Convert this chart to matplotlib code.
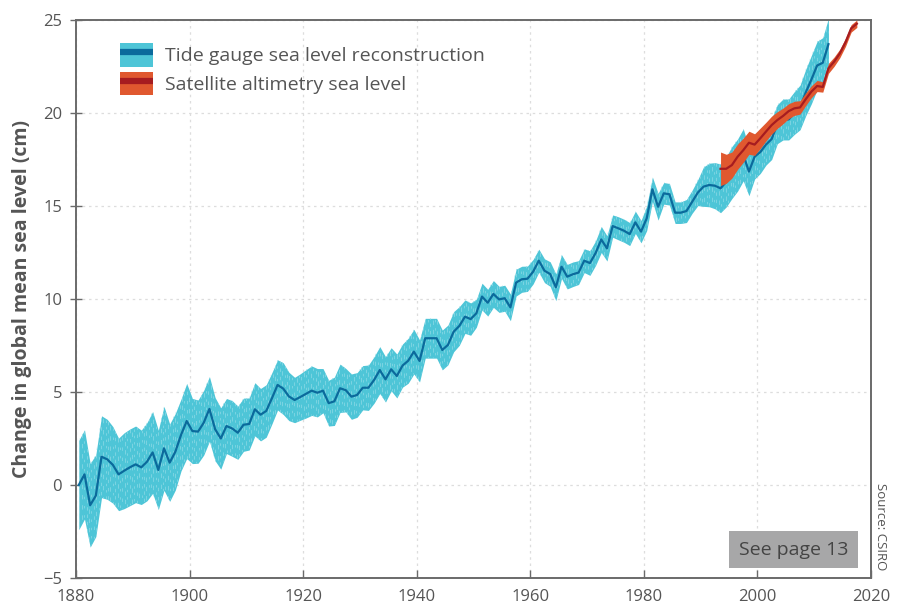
import numpy as np
import matplotlib
matplotlib.use("Agg")
import matplotlib.pyplot as plt
from matplotlib.patches import Patch
from matplotlib.lines import Line2D
from matplotlib.collections import LineCollection

plt.rcParams['font.family'] = ['Open Sans', 'DejaVu Sans']

# Tide gauge reconstruction (annual, 1880-2012), cm
tg_years = np.arange(1880, 2013)
tg_level = [
    0.0, 0.57, -1.09, -0.57, 1.52, 1.38, 1.08, 0.57, 0.77, 0.95,
    1.11, 0.95, 1.25, 1.75, 0.81, 1.97, 1.20, 1.79, 2.69, 3.44,
    2.90, 2.87, 3.35, 4.09, 3.0, 2.5, 3.17, 3.04, 2.81, 3.24,
    3.28, 4.07, 3.78, 3.98, 4.66, 5.38, 5.18, 4.76, 4.57, 4.73,
    4.9, 5.07, 4.96, 5.07, 4.4, 4.5, 5.2, 5.1, 4.75, 4.84,
    5.23, 5.23, 5.65, 6.18, 5.68, 6.22, 5.86, 6.42, 6.68, 7.17,
    6.67, 7.89, 7.89, 7.89, 7.26, 7.53, 8.24, 8.55, 9.05, 8.92,
    9.23, 10.13, 9.8, 10.27, 9.98, 10.04, 9.55, 10.88, 11.06, 11.09,
    11.47, 12.06, 11.52, 11.34, 10.63, 11.74, 11.2, 11.33, 11.42, 12.06,
    11.93, 12.47, 13.2, 12.72, 13.92, 13.8, 13.67, 13.49, 14.12, 13.62,
    14.34, 15.9, 14.96, 15.68, 15.63, 14.64, 14.64, 14.73, 15.23, 15.72,
    16.04, 16.13, 16.09, 15.95, 16.3, 16.8, 17.2, 17.75, 16.85, 17.65,
    17.9, 18.3, 18.6, 19.4, 19.65, 19.65, 20.0, 20.3, 21.1, 21.8,
    22.55, 22.7, 23.7,
]
tg_err = [
    2.4, 2.4, 2.25, 2.2, 2.2, 2.15, 2.06, 1.95, 2.04, 2.06,
    2.06, 2.0, 2.1, 2.2, 2.13, 2.26, 2.08, 2.06, 1.93, 2.02,
    1.75, 1.7, 1.74, 1.74, 1.7, 1.65, 1.48, 1.5, 1.43, 1.43,
    1.4, 1.43, 1.41, 1.41, 1.38, 1.35, 1.39, 1.3, 1.22, 1.25,
    1.3, 1.33, 1.3, 1.19, 1.23, 1.3, 1.3, 1.17, 1.22, 1.2,
    1.19, 1.22, 1.25, 1.26, 1.22, 1.16, 1.18, 1.16, 1.21, 1.2,
    1.13, 1.07, 1.07, 1.07, 1.07, 1.07, 1.08, 1.04, 0.9, 0.87,
    0.75, 0.72, 0.72, 0.72, 0.7, 0.7, 0.72, 0.72, 0.7, 0.68,
    0.66, 0.62, 0.64, 0.66, 0.72, 0.64, 0.66, 0.66, 0.64, 0.64,
    0.66, 0.66, 0.7, 0.68, 0.6, 0.62, 0.62, 0.62, 0.6, 0.6,
    0.66, 0.66, 0.72, 0.58, 0.58, 0.58, 0.58, 0.62, 0.62, 0.7,
    1.06, 1.17, 1.24, 1.31, 1.35, 1.4, 1.4, 1.4, 1.3, 1.2,
    1.15, 1.1, 1.1, 1.05, 1.1, 1.1, 1.15, 1.2, 1.25, 1.3,
    1.3, 1.35, 1.4,
]

# Satellite altimetry (1993-2017), cm
sat_years = np.arange(1993, 2018)
sat_level = [
    17.0, 17.0, 17.2, 17.65, 18.0, 18.4, 18.3, 18.64, 19.0, 19.35,
    19.62, 19.84, 20.1, 20.25, 20.3, 20.74, 21.15, 21.45, 21.4, 22.4,
    22.76, 23.2, 23.8, 24.55, 24.8,
]
sat_err = [
    0.9, 0.78, 0.7, 0.68, 0.65, 0.62, 0.58, 0.55, 0.5, 0.48,
    0.45, 0.42, 0.4, 0.38, 0.36, 0.34, 0.32, 0.3, 0.28, 0.27,
    0.25, 0.23, 0.22, 0.2, 0.2,
]

labels = ['Tide gauge sea level reconstruction', 'Satellite altimetry sea level']

band_blue = '#4ec5d7'
streak_blue = '#8fdbe7'
line_blue = '#0b6a9c'
band_orange = '#e0582f'
line_red = '#a61c20'
text_grey = '#555555'

tg = np.array(tg_level)
te = np.array(tg_err)
sl = np.array(sat_level)
se = np.array(sat_err)
tx = tg_years + 0.5
sx = sat_years + 0.5

fig = plt.figure(figsize=(8.99, 6.13), dpi=100)
ax = fig.add_axes([0.0845, 0.0571, 0.8844, 0.9103])

band = ax.fill_between(tx, tg - te, tg + te, color=band_blue, linewidth=0, zorder=2)

# faint vertical streak texture inside the tide gauge band
sx_pos = np.arange(1880.2, 2013, 0.42)
segs = [[(x, -5), (x, 25)] for x in sx_pos]
styles = [(i % 5 * 1.3, (2.5 + i % 3, 4 + i % 4)) for i in range(len(sx_pos))]
streaks = LineCollection(segs, colors=streak_blue, linewidths=0.7, linestyles=styles,
                         alpha=0.7, zorder=2.5)
ax.add_collection(streaks)
streaks.set_clip_path(band.get_paths()[0], ax.transData)

ax.plot(tx, tg, color=line_blue, linewidth=1.6, zorder=3)
ax.fill_between(sx, sl - se, sl + se, color=band_orange, linewidth=0, zorder=4)
ax.plot(sx, sl, color=line_red, linewidth=1.6, zorder=5)

ax.set_xlim(1880, 2020)
ax.set_ylim(-5, 25)
ax.set_xticks(np.arange(1880, 2021, 20))
ax.set_yticks(np.arange(-5, 26, 5))
ax.grid(True, linestyle=(0, (2, 3)), color='#dddddd', linewidth=0.9, zorder=0)
ax.set_axisbelow(True)

for s in ax.spines.values():
    s.set_color('#6a6a6a')
    s.set_linewidth(1.4)
ax.tick_params(axis='x', direction='in', length=6, width=1, color='#6a6a6a',
               labelsize=12, labelcolor=text_grey, pad=8)
ax.tick_params(axis='y', direction='inout', length=8, width=1, color='#6a6a6a',
               labelsize=12, labelcolor=text_grey, pad=6)

ax.set_ylabel('Change in global mean sea level (cm)', fontsize=14,
              fontweight='bold', color=text_grey, labelpad=8)

handles = [
    (Patch(facecolor=band_blue, edgecolor='none'),
     Line2D([], [], color=line_blue, linewidth=4.5, solid_capstyle='butt')),
    (Patch(facecolor=band_orange, edgecolor='none'),
     Line2D([], [], color=line_red, linewidth=4.5, solid_capstyle='butt')),
]
ax.legend(handles, labels, loc='upper left', bbox_to_anchor=(0.0553, 0.958),
          frameon=False, fontsize=14, labelcolor=text_grey, borderpad=0, borderaxespad=0,
          handlelength=1.7, handleheight=1.45, labelspacing=0.3, handletextpad=0.6)

fig.text(0.979, 0.212, 'Source: CSIRO', rotation=270, fontsize=9.5,
         color=text_grey, ha='center', va='top')

ax.text(0.9025, 0.051, 'See page 13', transform=ax.transAxes, ha='center', va='center',
        fontsize=14, color='#444444', zorder=10,
        bbox=dict(boxstyle='square,pad=0.5', facecolor='#a7a7a8', edgecolor='none'))

fig.savefig('out.png', dpi=100)
